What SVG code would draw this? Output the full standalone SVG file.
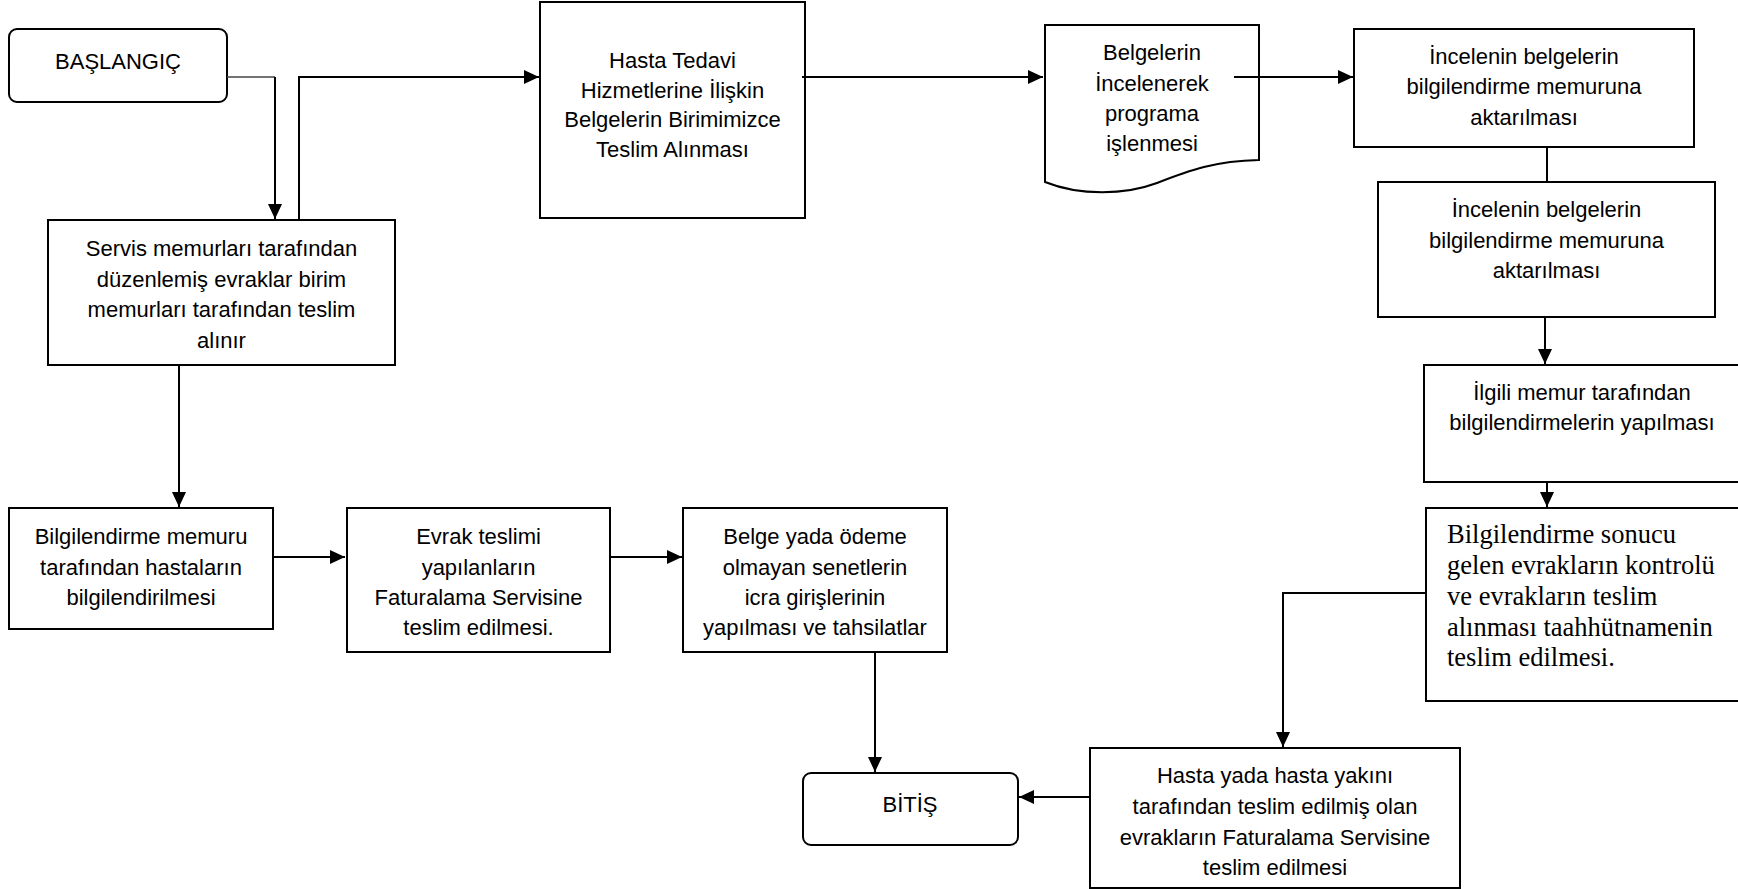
<svg xmlns="http://www.w3.org/2000/svg" width="1738" height="889" viewBox="0 0 1738 889">
<defs>
<marker id="ah" markerUnits="userSpaceOnUse" markerWidth="16" markerHeight="14" refX="15" refY="7" orient="auto">
<path d="M0,0 L15,7 L0,14 Z" fill="#000"/>
</marker>
<style>
.box{fill:#fff;stroke:#000;stroke-width:2}
.t{font-family:"Liberation Sans",Arial,sans-serif;font-size:22px;fill:#000;text-anchor:middle}
.ts{font-family:"Liberation Serif","Times New Roman",serif;font-size:26.5px;fill:#000}
.c{fill:none;stroke:#000;stroke-width:2}
.thin{fill:none;stroke:#444;stroke-width:1.3}
</style>
</defs>
<rect width="1738" height="889" fill="#fff"/>

<g id="start">
<rect class="box" x="9" y="29" width="218" height="73" rx="8"/>
<text class="t" x="118" y="69">BAŞLANGIÇ</text>
</g>

<g id="servis">
<rect class="box" x="48" y="220" width="347" height="145"/>
<text class="t" x="221.5" y="256">Servis memurları tarafından</text>
<text class="t" x="221.5" y="286.5">düzenlemiş evraklar birim</text>
<text class="t" x="221.5" y="317">memurları tarafından teslim</text>
<text class="t" x="221.5" y="347.5">alınır</text>
</g>

<g id="hasta-tedavi">
<rect class="box" x="540" y="2" width="265" height="216"/>
<text class="t" x="672.5" y="68">Hasta Tedavi</text>
<text class="t" x="672.5" y="97.5">Hizmetlerine İlişkin</text>
<text class="t" x="672.5" y="127">Belgelerin Birimimizce</text>
<text class="t" x="672.5" y="157">Teslim Alınması</text>
</g>

<g id="belgelerin">
<path class="box" d="M1045,25 H1259 V160 C1215,161 1190,170 1157,183 C1125,195 1080,196 1045,182 Z"/>
<text class="t" x="1152" y="60">Belgelerin</text>
<text class="t" x="1152" y="91">İncelenerek</text>
<text class="t" x="1152" y="121">programa</text>
<text class="t" x="1152" y="151">işlenmesi</text>
</g>

<g id="incelenin1">
<rect class="box" x="1354" y="29" width="340" height="118"/>
<text class="t" x="1524" y="64">İncelenin belgelerin</text>
<text class="t" x="1524" y="94">bilgilendirme memuruna</text>
<text class="t" x="1524" y="124.5">aktarılması</text>
</g>

<g id="incelenin2">
<rect class="box" x="1378" y="182" width="337" height="135"/>
<text class="t" x="1546.5" y="217">İncelenin belgelerin</text>
<text class="t" x="1546.5" y="247.5">bilgilendirme memuruna</text>
<text class="t" x="1546.5" y="278">aktarılması</text>
</g>

<g id="ilgili">
<rect class="box" x="1424" y="365" width="330" height="117"/>
<text class="t" x="1582" y="400">İlgili memur tarafından</text>
<text class="t" x="1582" y="430">bilgilendirmelerin yapılması</text>
</g>

<g id="sonucu">
<rect class="box" x="1426" y="508" width="330" height="193"/>
<text class="ts" x="1447" y="543">Bilgilendirme sonucu</text>
<text class="ts" x="1447" y="574">gelen evrakların kontrolü</text>
<text class="ts" x="1447" y="605">ve evrakların teslim</text>
<text class="ts" x="1447" y="635.5">alınması taahhütnamenin</text>
<text class="ts" x="1447" y="666">teslim edilmesi.</text>
</g>

<g id="hasta-yakini">
<rect class="box" x="1090" y="748" width="370" height="140"/>
<text class="t" x="1275" y="783">Hasta yada hasta yakını</text>
<text class="t" x="1275" y="814">tarafından teslim edilmiş olan</text>
<text class="t" x="1275" y="845">evrakların Faturalama Servisine</text>
<text class="t" x="1275" y="875">teslim edilmesi</text>
</g>

<g id="bitis">
<rect class="box" x="803" y="773" width="215" height="72" rx="8"/>
<text class="t" x="910" y="812">BİTİŞ</text>
</g>

<g id="bilgilendirme-memuru">
<rect class="box" x="9" y="508" width="264" height="121"/>
<text class="t" x="141" y="544">Bilgilendirme memuru</text>
<text class="t" x="141" y="575">tarafından hastaların</text>
<text class="t" x="141" y="605">bilgilendirilmesi</text>
</g>

<g id="evrak-teslimi">
<rect class="box" x="347" y="508" width="263" height="144"/>
<text class="t" x="478.5" y="544">Evrak teslimi</text>
<text class="t" x="478.5" y="575">yapılanların</text>
<text class="t" x="478.5" y="605">Faturalama Servisine</text>
<text class="t" x="478.5" y="635">teslim edilmesi.</text>
</g>

<g id="belge-yada">
<rect class="box" x="683" y="508" width="264" height="144"/>
<text class="t" x="815" y="544">Belge yada ödeme</text>
<text class="t" x="815" y="574.5">olmayan senetlerin</text>
<text class="t" x="815" y="605">icra girişlerinin</text>
<text class="t" x="815" y="635">yapılması ve tahsilatlar</text>
</g>

<g id="connectors">
<path class="thin" d="M227,77 H275"/>
<path class="c" d="M275,77 V219" marker-end="url(#ah)"/>
<path class="c" d="M299,220 V77 H539" marker-end="url(#ah)"/>
<path class="c" d="M802,77 H1043" marker-end="url(#ah)"/>
<path class="c" d="M1234,77 H1353" marker-end="url(#ah)"/>
<path class="c" d="M1547,147 V182"/>
<path class="c" d="M1545,317 V364" marker-end="url(#ah)"/>
<path class="c" d="M1547,482 V507" marker-end="url(#ah)"/>
<path class="c" d="M1426,593 H1283 V747" marker-end="url(#ah)"/>
<path class="c" d="M1090,797 H1019" marker-end="url(#ah)"/>
<path class="c" d="M179,365 V507" marker-end="url(#ah)"/>
<path class="c" d="M273,557 H345" marker-end="url(#ah)"/>
<path class="c" d="M610,557 H682" marker-end="url(#ah)"/>
<path class="c" d="M875,652 V772" marker-end="url(#ah)"/>
</g>
</svg>
